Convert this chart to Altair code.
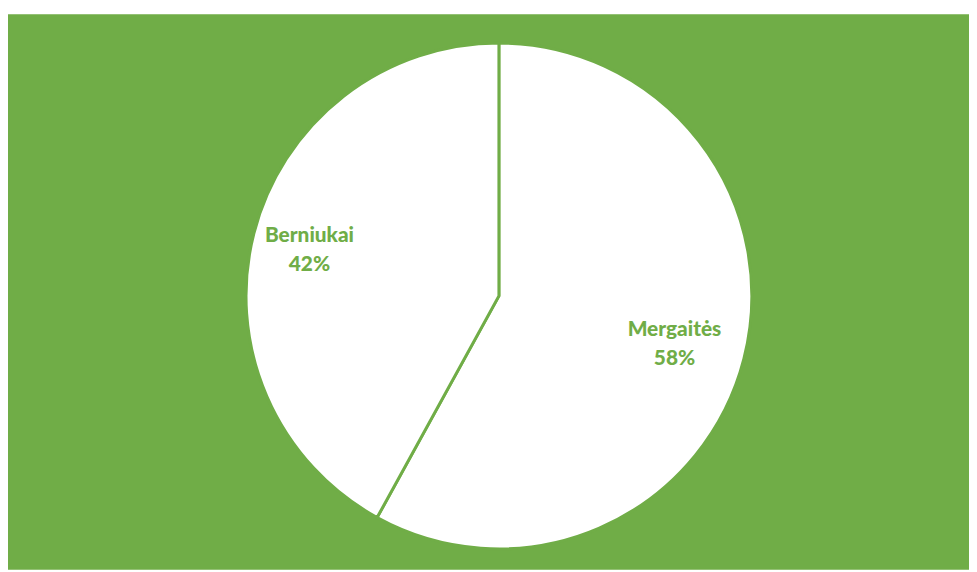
import altair as alt
import pandas as pd

categories = ["Mergaitės", "Berniukai"]
values = [58, 42]
pct_labels = ["58%", "42%"]

df = pd.DataFrame({
    "cat": categories,
    "val": values,
    "order": [0, 1],
    "label": [f"{c}\n{p}" for c, p in zip(categories, pct_labels)],
})

GREEN = "#70AD47"

base = alt.Chart(df).encode(
    theta=alt.Theta("val:Q", stack=True),
    order=alt.Order("order:Q"),
    x=alt.value(495),
    y=alt.value(284),
)

pie = base.mark_arc(outerRadius=255, fill="white", stroke=GREEN, strokeWidth=3)

text = base.mark_text(
    radius=190, dx=-7, dy=-13, font="Lato", fontWeight=900, fontSize=21,
    color=GREEN, lineBreak="\n", lineHeight=29, align="center", baseline="middle",
).encode(text="label:N")

chart = (pie + text).properties(
    width=969, height=560,
    padding={"left": 0, "top": 4, "right": 0, "bottom": 0},
    autosize=alt.AutoSizeParams(type="none"),
    background="white",
).configure_view(fill=GREEN, stroke=None)

chart.save("out.html", embed_options={"renderer": "svg", "actions": False})
